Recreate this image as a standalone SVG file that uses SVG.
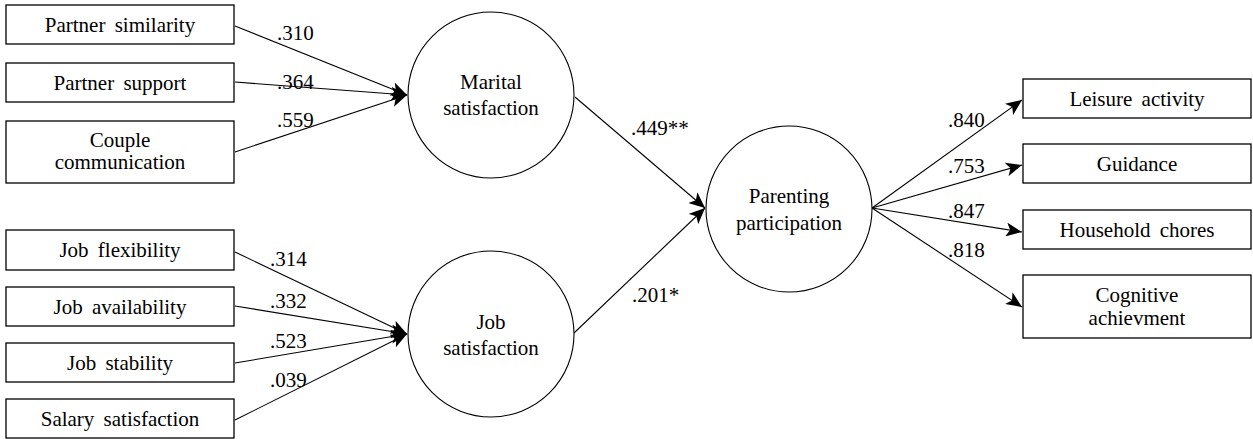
<svg xmlns="http://www.w3.org/2000/svg" width="1253" height="439" viewBox="0 0 1253 439">
<style>
.box{fill:#fff;stroke:#000;stroke-width:1.3}
.circ{fill:#fff;stroke:#000;stroke-width:1.1}
.lbl{font-family:"Times New Roman",Times,Tinos,"Noto Serif","Liberation Serif","DejaVu Serif",FreeSerif,serif;font-size:21px;fill:#000;text-anchor:middle;word-spacing:4px}
.num{font-family:"Times New Roman",Times,Tinos,"Noto Serif","Liberation Serif","DejaVu Serif",FreeSerif,serif;font-size:21px;fill:#000}
.edge{stroke:#000;stroke-width:1.1;fill:none;marker-end:url(#ah)}
</style>
<defs>
<marker id="ah" markerUnits="userSpaceOnUse" markerWidth="18" markerHeight="14" refX="16" refY="7" orient="auto">
<path d="M0,0 L16,7 L0,14 L4,7 z" fill="#000"/>
</marker>
</defs>
<rect width="1253" height="439" fill="#fff"/>
<g id="connectors">
<line class="edge" x1="235" y1="26" x2="407" y2="95"/>
<line class="edge" x1="235" y1="82" x2="407" y2="95"/>
<line class="edge" x1="235" y1="152" x2="407" y2="95"/>
<line class="edge" x1="235" y1="252" x2="407" y2="334"/>
<line class="edge" x1="235" y1="306" x2="407" y2="334"/>
<line class="edge" x1="235" y1="363" x2="407" y2="334"/>
<line class="edge" x1="235" y1="420" x2="407" y2="334"/>
<line class="edge" x1="575" y1="97" x2="705" y2="208"/>
<line class="edge" x1="574" y1="333" x2="705" y2="208"/>
<line class="edge" x1="872" y1="208" x2="1022" y2="100"/>
<line class="edge" x1="872" y1="208" x2="1022" y2="165"/>
<line class="edge" x1="872" y1="208" x2="1022" y2="232"/>
<line class="edge" x1="872" y1="208" x2="1022" y2="307"/>
<text class="num" x="277" y="40">.310</text>
<text class="num" x="277" y="89">.364</text>
<text class="num" x="277" y="127">.559</text>
<text class="num" x="270" y="266">.314</text>
<text class="num" x="270" y="308">.332</text>
<text class="num" x="270" y="348">.523</text>
<text class="num" x="270" y="387">.039</text>
<text class="num" x="631" y="135">.449**</text>
<text class="num" x="632" y="302">.201*</text>
<text class="num" x="948" y="127">.840</text>
<text class="num" x="948" y="173">.753</text>
<text class="num" x="948" y="218">.847</text>
<text class="num" x="948" y="257">.818</text>
</g>
<g id="partner-similarity"><rect class="box" x="6" y="5" width="228" height="39"/><text class="lbl" x="120" y="32">Partner similarity</text></g>
<g id="partner-support"><rect class="box" x="6" y="63" width="228" height="39"/><text class="lbl" x="120" y="90">Partner support</text></g>
<g id="couple-communication"><rect class="box" x="6" y="121" width="228" height="62"/><text class="lbl" x="120" y="147">Couple</text><text class="lbl" x="120" y="169">communication</text></g>
<g id="job-flexibility"><rect class="box" x="6" y="230" width="228" height="40"/><text class="lbl" x="120" y="257">Job flexibility</text></g>
<g id="job-availability"><rect class="box" x="6" y="287" width="228" height="39"/><text class="lbl" x="120" y="314">Job availability</text></g>
<g id="job-stability"><rect class="box" x="6" y="343" width="228" height="39"/><text class="lbl" x="120" y="370">Job stability</text></g>
<g id="salary-satisfaction"><rect class="box" x="6" y="399" width="228" height="39"/><text class="lbl" x="120" y="426">Salary satisfaction</text></g>
<g id="marital-satisfaction"><circle class="circ" cx="491" cy="95" r="83"/><text class="lbl" x="491" y="89">Marital</text><text class="lbl" x="491" y="115">satisfaction</text></g>
<g id="job-satisfaction"><circle class="circ" cx="491" cy="334" r="83"/><text class="lbl" x="491" y="329">Job</text><text class="lbl" x="491" y="355">satisfaction</text></g>
<g id="parenting-participation"><circle class="circ" cx="789" cy="209" r="83"/><text class="lbl" x="789" y="203">Parenting</text><text class="lbl" x="789" y="230">participation</text></g>
<g id="leisure-activity"><rect class="box" x="1023" y="79" width="228" height="39"/><text class="lbl" x="1137" y="106">Leisure activity</text></g>
<g id="guidance"><rect class="box" x="1023" y="144" width="228" height="39"/><text class="lbl" x="1137" y="171">Guidance</text></g>
<g id="household-chores"><rect class="box" x="1023" y="210" width="228" height="39"/><text class="lbl" x="1137" y="237">Household chores</text></g>
<g id="cognitive-achievment"><rect class="box" x="1023" y="275" width="228" height="63"/><text class="lbl" x="1137" y="302">Cognitive</text><text class="lbl" x="1137" y="325">achievment</text></g>
</svg>
